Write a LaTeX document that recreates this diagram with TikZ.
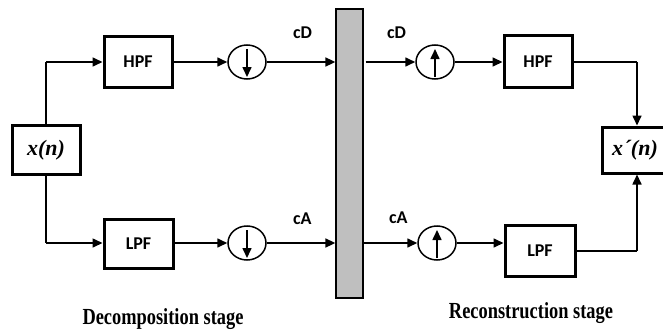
\documentclass[tikz,border=0pt]{standalone}
\usepackage{fontspec}
\setmainfont{Liberation Serif}
\newfontfamily\labelfont{Carlito}
\usetikzlibrary{arrows.meta,shapes.geometric}
\tikzset{
  blk/.style={draw, line width=3pt, inner sep=0pt, font=\labelfont\bfseries\fontsize{18}{18}\selectfont},
  smp/.style={draw, ellipse, line width=1.5pt, minimum width=38pt, minimum height=34pt, inner sep=0pt},
  wire/.style={line width=1.6pt, -{Triangle[length=10pt,width=9pt]}},
  plain/.style={line width=1.6pt},
  tag/.style={font=\labelfont\bfseries\fontsize{18}{18}\selectfont, anchor=west, inner sep=0pt},
  sig/.style={font=\bfseries\itshape\fontsize{22}{22}\selectfont},
  stage/.style={font=\bfseries\fontsize{23}{23}\selectfont, xscale=0.8}
}
\begin{document}
\begin{tikzpicture}[x=1pt,y=-1pt]
\useasboundingbox (0,0) rectangle (663,329);
% analysis side
\node[blk, minimum width=68pt, minimum height=49pt] (xin) at (46,149.5) {};
\node[sig] at (46,150) {x(n)};
\node[blk, minimum width=68pt, minimum height=50pt] (hpf1) at (138,62) {HPF};
\node[blk, minimum width=69pt, minimum height=49pt] (lpf1) at (138.5,243.5) {LPF};
\node[smp] (dn1) at (247,62) {};
\node[smp] (dn2) at (247,243) {};
\draw[wire] ([yshift=13pt]dn1.center) -- ([yshift=-15pt]dn1.center);
\draw[wire] ([yshift=13pt]dn2.center) -- ([yshift=-15pt]dn2.center);
% coefficient store
\node[draw, line width=1.3pt, fill=black!25, minimum width=27pt, minimum height=289pt, inner sep=0pt] (bar) at (349.5,153.5) {};
% synthesis side
\node[smp] (up1) at (435,62) {};
\node[smp] (up2) at (437,243) {};
\draw[wire] ([yshift=-15pt]up1.center) -- ([yshift=13pt]up1.center);
\draw[wire] ([yshift=-15pt]up2.center) -- ([yshift=13pt]up2.center);
\node[blk, minimum width=68pt, minimum height=51pt] (hpf2) at (538,61.5) {HPF};
\node[blk, minimum width=70pt, minimum height=51pt] (lpf2) at (540,250.5) {LPF};
\node[blk, minimum width=64pt, minimum height=46pt] (xout) at (634,150) {};
\node[sig] at (635,150) {x\kern0.5pt´(n)};
% connectors
\coordinate (br1) at (46,62);
\coordinate (br2) at (46,243);
\draw[plain] (xin.north -| br1) -- (br1);
\draw[wire] (br1) -- (hpf1.west);
\draw[plain] (xin.south -| br2) -- (br2);
\draw[wire] (br2) -- (lpf1.west |- br2);
\draw[wire] (hpf1.east) -- (dn1.west);
\draw[wire] (lpf1.east |- dn2) -- (dn2.west);
\draw[wire] (dn1.east) -- (dn1.east -| bar.west);
\draw[wire] (dn2.east) -- (dn2.east -| bar.west);
\draw[wire] ([xshift=2pt]bar.east |- up1) -- (up1.west);
\draw[wire] (bar.east |- up2) -- (up2.west);
\draw[wire] (up1.east) -- (up1.east -| hpf2.west);
\draw[wire] (up2.east) -- (up2.east -| lpf2.west);
\coordinate (j1) at (637,62);
\coordinate (j2) at (637,251);
\draw[plain] (hpf2.east |- j1) -- (j1);
\draw[wire] (j1) -- (j1 |- xout.north);
\draw[plain] (lpf2.east |- j2) -- (j2);
\draw[wire] (j2) -- (j2 |- xout.south);
% labels
\node[tag] at (293,33) {cD};
\node[tag] at (293,219) {cA};
\node[tag] at (387,33) {cD};
\node[tag] at (389,218) {cA};
\node[stage] at (163,319) {Decomposition stage};
\node[stage] at (531,313) {Reconstruction stage};
\end{tikzpicture}
\end{document}
